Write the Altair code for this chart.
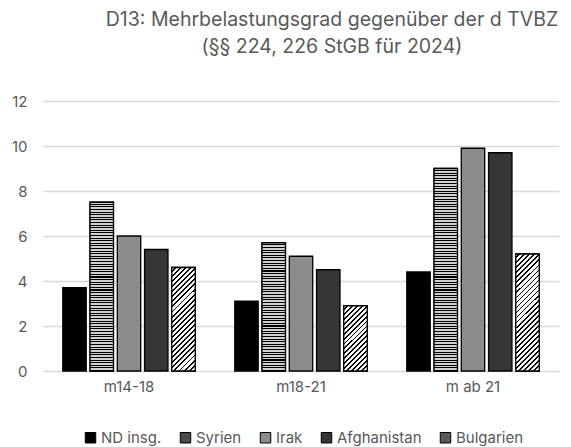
import altair as alt
import pandas as pd

groups = ["m14-18", "m18-21", "m ab 21"]
series = ["ND insg.", "Syrien", "Irak", "Afghanistan", "Bulgarien"]
nd_insg = [3.7, 3.1, 4.4]
syrien = [7.5, 5.7, 9.0]
irak = [6.0, 5.1, 9.9]
afghanistan = [5.4, 4.5, 9.7]
bulgarien = [4.6, 2.9, 5.2]
y_ticks = [0, 2, 4, 6, 8, 10, 12]
title_lines = ["D13: Mehrbelastungsgrad gegenüber der d TVBZ", "(§§ 224, 226 StGB für 2024)"]

values_by_series = [nd_insg, syrien, irak, afghanistan, bulgarien]
rows = []
for s, vals in zip(series, values_by_series):
    for g, v in zip(groups, vals):
        rows.append({"group": g, "series": s, "value": v})
df = pd.DataFrame(rows)

FONT = "Inter"
TXT = "#595959"
PX_PER_UNIT = 270 / 12
BAR_W = 23.4


def stripe_stops(n, frac, light, dark):
    stops = []
    for i in range(n):
        a = i / n
        b = (i + frac) / n
        c = (i + 1) / n
        stops += [{"offset": a, "color": light}, {"offset": b, "color": light},
                  {"offset": b, "color": dark}, {"offset": c, "color": dark}]
    return stops


x_enc = alt.X("group:N", sort=groups, title=None,
              scale=alt.Scale(domain=groups, paddingInner=0.23, paddingOuter=0.115),
              axis=alt.Axis(labelAngle=0, domain=False, ticks=False, labelFontSize=15,
                            labelColor=TXT, labelFont=FONT, labelPadding=8))
xo_enc = alt.XOffset("series:N", sort=series,
                     scale=alt.Scale(domain=series, paddingInner=0.14, paddingOuter=0))
y_enc = alt.Y("value:Q", title=None,
              scale=alt.Scale(domain=[0, 12], nice=False),
              axis=alt.Axis(values=y_ticks, domain=False, ticks=False, labelFontSize=15,
                            labelColor=TXT, labelFont=FONT, labelPadding=16,
                            gridColor="#d9d9d9", gridWidth=1.5))

base = alt.Chart(df).mark_bar(stroke="black", strokeWidth=1.3).encode(
    x=x_enc, xOffset=xo_enc, y=y_enc,
    fill=alt.Fill("series:N", sort=series,
                  scale=alt.Scale(domain=series,
                                  range=["#000000", "#4a4a4a", "#8c8c8c", "#363636", "#5a5a5a"]),
                  legend=alt.Legend(title=None, orient="none", direction="horizontal",
                                    legendX=40, legendY=329, symbolType="square",
                                    symbolSize=110, symbolStrokeColor="black",
                                    symbolStrokeWidth=1, labelFontSize=15,
                                    labelFont=FONT, labelColor=TXT,
                                    columnPadding=16, labelOffset=3)),
)

layers = [base]
for gi, g in enumerate(groups):
    # Syrien: horizontal stripes
    h = syrien[gi] * PX_PER_UNIT
    n = max(1, round(h / 2.6))
    grad = {"gradient": "linear", "x1": 0, "y1": 0, "x2": 0, "y2": 1,
            "stops": stripe_stops(n, 0.6, "#d0d0d0", "#000000")}
    layers.append(
        alt.Chart(df).transform_filter(
            (alt.datum.series == "Syrien") & (alt.datum.group == g)
        ).mark_bar(stroke="black", strokeWidth=1.3, fill=grad).encode(
            x=x_enc, xOffset=xo_enc, y=y_enc)
    )
    # Bulgarien: diagonal hatch at 45 degrees
    h = bulgarien[gi] * PX_PER_UNIT
    r = h / BAR_W
    k = (1 + r) / (1 + r * r)
    n = max(1, round((BAR_W + h) / 5.0))
    grad = {"gradient": "linear", "x1": 0, "y1": 0, "x2": k, "y2": k * r,
            "stops": stripe_stops(n, 0.62, "#ffffff", "#000000")}
    layers.append(
        alt.Chart(df).transform_filter(
            (alt.datum.series == "Bulgarien") & (alt.datum.group == g)
        ).mark_bar(stroke="black", strokeWidth=1.3, fill=grad).encode(
            x=x_enc, xOffset=xo_enc, y=y_enc)
    )

chart = alt.layer(*layers).properties(
    width=516, height=270,
    autosize="none",
    padding={"left": 35, "top": 93, "right": 4, "bottom": 76},
    title=alt.TitleParams(text=title_lines, anchor="middle", dx=31, fontSize=19.5,
                          font=FONT, fontWeight="normal", color=TXT,
                          lineHeight=27, offset=37),
).configure_view(stroke=None)

chart.save("out.html", embed_options={"renderer": "svg", "actions": False})
